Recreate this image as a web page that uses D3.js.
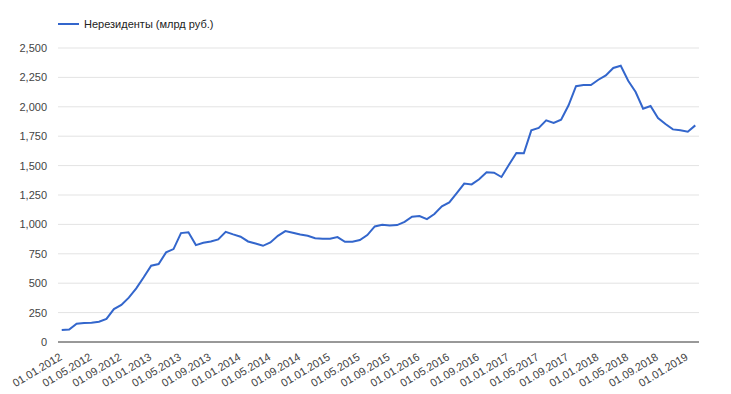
<!DOCTYPE html>
<html>
<head>
<meta charset="utf-8">
<script src="https://cdn.jsdelivr.net/npm/d3@7"></script>
<style>
  body { margin: 0; background: #fff; }
  text { font-family: Arial, "Liberation Sans", sans-serif; }
</style>
</head>
<body>
<script>
    // monthly series, 01.01.2012 .. 01.02.2019
    const seriesName = "Нерезиденты (млрд руб.)";
    const values = [
        102, 106, 156, 161, 164, 173, 196, 280, 315, 377, 456, 550,   // 2012
        649, 663, 762, 790, 926, 933, 824, 844, 855, 872, 937, 915,   // 2013
        895, 855, 838, 818, 847, 903, 943, 929, 915, 903, 882, 878,   // 2014
        879, 892, 852, 852, 867, 909, 983, 997, 991, 994, 1022, 1065, // 2015
        1071, 1045, 1088, 1153, 1187, 1266, 1347, 1340, 1384, 1443, 1440, 1403, // 2016
        1508, 1607, 1605, 1800, 1820, 1885, 1862, 1891, 2013, 2175, 2185, 2185, // 2017
        2230, 2267, 2330, 2349, 2222, 2126, 1984, 2007, 1905, 1854, 1808, 1800, // 2018
        1788, 1842                                                     // 2019
    ];
    const startMonth = new Date(2012, 0, 1);
    const yTicks = [0, 250, 500, 750, 1000, 1250, 1500, 1750, 2000, 2250, 2500];

    const fmt = d3.timeFormat("%d.%m.%Y");
    const categories = d3.timeMonth.range(startMonth, d3.timeMonth.offset(startMonth, values.length)).map(fmt);
    const data = categories.map((c, i) => ({ cat: c, v: values[i] }));

    const W = 731, H = 394;
    // plot area
    const p = { left: 58, right: 699, top: 48, bottom: 342 };

    const svg = d3.select("body").append("svg")
        .attr("width", W)
        .attr("height", H);

    const x = d3.scaleBand()
        .domain(categories)
        .range([p.left, p.right]);

    const y = d3.scaleLinear()
        .domain([0, 2500])
        .range([p.bottom, p.top]);

    // gridlines
    svg.append("g")
        .selectAll("line")
        .data(yTicks.filter(d => d > 0))
        .enter()
        .append("line")
        .attr("x1", p.left)
        .attr("x2", p.right)
        .attr("y1", d => y(d))
        .attr("y2", d => y(d))
        .attr("stroke", "#e3e3e3")
        .attr("stroke-width", 1);

    // y axis labels
    const yAxis = d3.axisLeft(y).tickValues(yTicks).tickSize(0).tickPadding(11).tickFormat(d3.format(","));
    const gy = svg.append("g")
        .attr("transform", "translate(" + p.left + ",0)")
        .call(yAxis);
    gy.select(".domain").remove();
    gy.selectAll("text").attr("font-size", 11).attr("fill", "#444").attr("font-family", null);

    // x axis labels, every 4th month, slanted
    const xAxis = d3.axisBottom(x).tickValues(categories.filter((d, i) => i % 4 === 0)).tickSize(0);
    const gx = svg.append("g")
        .attr("transform", "translate(0," + p.bottom + ")")
        .call(xAxis);
    gx.select(".domain").remove();
    gx.selectAll("text")
        .attr("font-size", 11)
        .attr("fill", "#444")
        .attr("font-family", null)
        .attr("text-anchor", "end")
        .attr("y", 0)
        .attr("dy", 0)
        .attr("transform", "translate(1,17) rotate(-31)");

    // baseline
    svg.append("line")
        .attr("x1", p.left)
        .attr("x2", p.right)
        .attr("y1", y(0))
        .attr("y2", y(0))
        .attr("stroke", "#333")
        .attr("stroke-width", 1);

    // series line
    const line = d3.line()
        .x(d => x(d.cat) + x.bandwidth() / 2)
        .y(d => y(d.v));

    svg.append("path")
        .datum(data)
        .attr("d", line)
        .attr("fill", "none")
        .attr("stroke", "#3366cc")
        .attr("stroke-width", 2);

    // legend
    const lg = svg.append("g").attr("transform", "translate(58,24)");
    lg.append("line")
        .attr("x1", 0).attr("x2", 21)
        .attr("stroke", "#3366cc")
        .attr("stroke-width", 2);
    lg.append("text")
        .attr("x", 26)
        .attr("dy", "0.35em")
        .attr("font-size", 11)
        .attr("fill", "#222")
        .text(seriesName);
</script>
</body>
</html>
